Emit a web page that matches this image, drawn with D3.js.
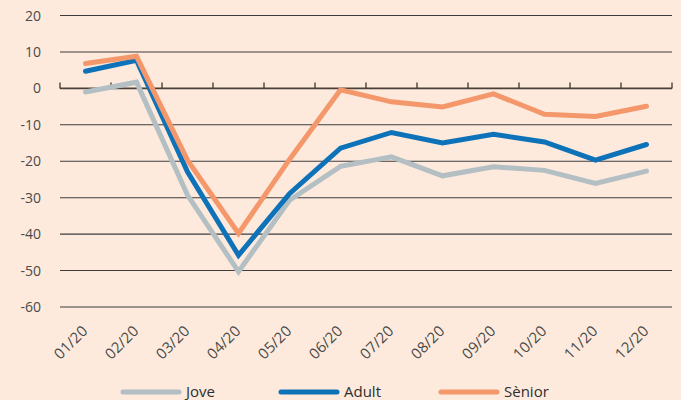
<!DOCTYPE html>
<html>
<head>
<meta charset="utf-8">
<script src="https://cdn.jsdelivr.net/npm/d3@7"></script>
<style>
  body { margin: 0; background: #fdeadd; }
  svg { display: block; font-family: "Open Sans", sans-serif; }
</style>
</head>
<body>
<div id="chart"></div>
<script>
const months = ['01/20', '02/20', '03/20', '04/20', '05/20', '06/20', '07/20', '08/20', '09/20', '10/20', '11/20', '12/20'];
const jove = [-1, 1.7, -29.3, -50.3, -30.7, -21.4, -18.8, -24, -21.5, -22.5, -26.1, -22.7];
const adult = [4.7, 7.7, -22.9, -45.8, -28.9, -16.4, -12.1, -15, -12.6, -14.7, -19.7, -15.4];
const senior = [6.8, 8.8, -19.7, -39.8, -19.5, -0.4, -3.7, -5.1, -1.5, -7.1, -7.7, -4.9];
const yTicks = [20, 10, 0, -10, -20, -30, -40, -50, -60];
const seriesNames = ['Jove', 'Adult', 'Sènior'];

const w = 681;
const h = 400;
const left = 60;
const right = 672;
const colors = ['#b3bfc3', '#0e72b9', '#f4976b'];
const allSeries = [jove, adult, senior];

const svg = d3.select('#chart')
  .append('svg')
  .attr('width', w)
  .attr('height', h);

const xScale = d3.scaleBand()
  .domain(months)
  .range([left, right]);

const yScale = d3.scaleLinear()
  .domain([-60, 20])
  .range([307, 15.5]);

// gridlines
svg.selectAll('line.grid')
  .data(yTicks)
  .enter()
  .append('line')
  .attr('class', 'grid')
  .attr('x1', left)
  .attr('x2', right)
  .attr('y1', d => yScale(d))
  .attr('y2', d => yScale(d))
  .attr('stroke', d => d === 0 ? '#4a4039' : '#3d3d3d')
  .attr('stroke-width', d => d === 0 ? 1.6 : 1.1);

svg.selectAll('text.ylab')
  .data(yTicks)
  .enter()
  .append('text')
  .attr('class', 'ylab')
  .attr('x', 41)
  .attr('y', d => yScale(d) + 5)
  .attr('text-anchor', 'end')
  .attr('font-size', 14)
  .attr('fill', '#4a4a4a')
  .text(d => d);

// ticks on the zero line, between categories
const bounds = months.map(m => xScale(m)).concat([right]);
svg.selectAll('line.tick')
  .data(bounds)
  .enter()
  .append('line')
  .attr('x1', d => d)
  .attr('x2', d => d)
  .attr('y1', yScale(0))
  .attr('y2', yScale(0) - 6)
  .attr('stroke', '#4a4039')
  .attr('stroke-width', 1.4);

// x labels
svg.selectAll('text.xlab')
  .data(months)
  .enter()
  .append('text')
  .attr('class', 'xlab')
  .attr('text-anchor', 'end')
  .attr('font-size', 15)
  .attr('fill', '#4a4a4a')
  .attr('transform', d => `translate(${xScale(d) + xScale.bandwidth() / 2 + 3},${332}) rotate(-45)`)
  .text(d => d);

const line = d3.line()
  .x((d, i) => xScale(months[i]) + xScale.bandwidth() / 2)
  .y(d => yScale(d));

svg.selectAll('path.series')
  .data(allSeries)
  .enter()
  .append('path')
  .attr('class', 'series')
  .attr('d', d => line(d))
  .attr('fill', 'none')
  .attr('stroke', (d, i) => colors[i])
  .attr('stroke-width', 5)
  .attr('stroke-linecap', 'round')
  .attr('stroke-linejoin', 'miter');

// legend
const legendX = [123, 281, 441];
const legend = svg.selectAll('g.legend')
  .data(seriesNames)
  .enter()
  .append('g')
  .attr('transform', (d, i) => `translate(${legendX[i]},392)`);

legend.append('line')
  .attr('x1', 0)
  .attr('x2', 56)
  .attr('stroke', (d, i) => colors[i])
  .attr('stroke-width', 5)
  .attr('stroke-linecap', 'round');

legend.append('text')
  .attr('x', 63)
  .attr('y', 5)
  .attr('font-size', 15)
  .attr('fill', '#2e2e2e')
  .text(d => d);
</script>
</body>
</html>
